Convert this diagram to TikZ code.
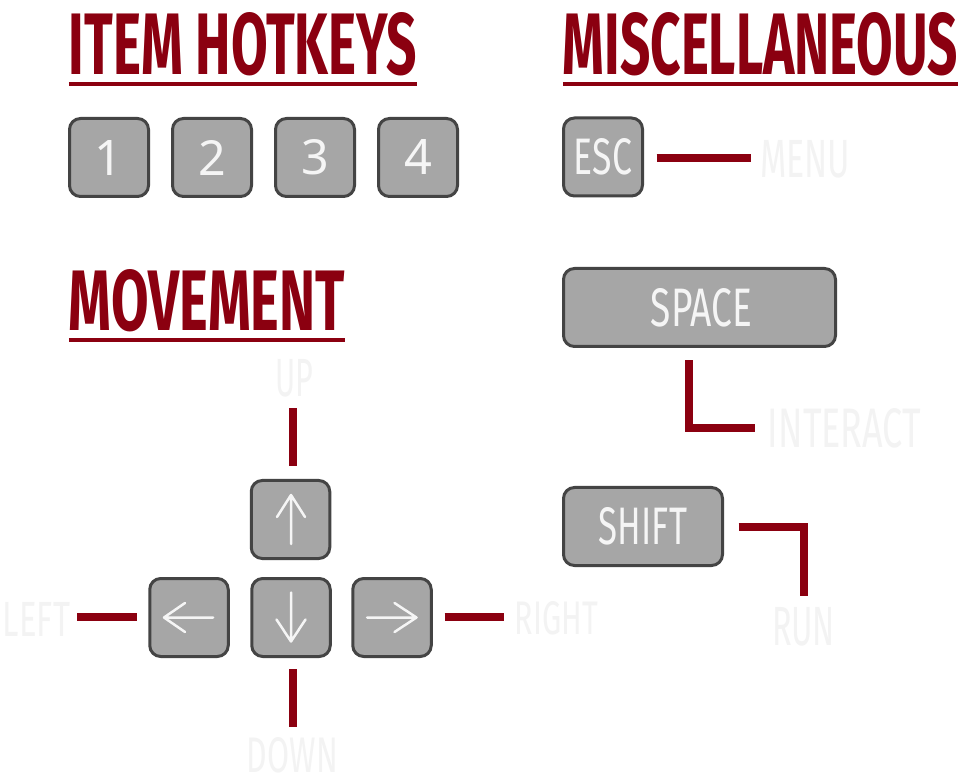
\documentclass[tikz,border=0pt]{standalone}
\usepackage{fontspec}
\usepackage{graphicx}
\usetikzlibrary{calc}
\newfontfamily\titlefont{Fira Sans}
\newfontfamily\keyfont{Fira Sans}
\newfontfamily\digitfont{Noto Sans}
\definecolor{titlered}{HTML}{8B0010}
\definecolor{keyfill}{HTML}{A6A6A6}
\definecolor{keyedge}{HTML}{444444}
\definecolor{keytext}{HTML}{F5F5F5}
\definecolor{labeltext}{HTML}{F3F3F3}
\newcommand\fittext[3]{\resizebox{#1pt}{#2pt}{#3}}
\newcommand\keydigit[1]{\resizebox{!}{35pt}{\digitfont #1}}
\tikzset{
  keybox/.style={draw=keyedge, line width=3pt, fill=keyfill, rounded corners=11pt,
    inner sep=0pt, minimum width=78.5pt, minimum height=78pt, text=keytext},
  conn/.style={draw=titlered, line width=8pt},
  uline/.style={draw=titlered, line width=4pt},
  lbl/.style={inner sep=0pt, text=labeltext},
  ttl/.style={inner sep=0pt, text=titlered},
  arr/.style={draw=keytext, line width=2.5pt, line cap=round, line join=round}
}
\begin{document}
\begin{tikzpicture}[x=1pt,y=-1pt]
\path[use as bounding box, fill=white] (0,0) rectangle (959,783);

% titles
\node[ttl] (tItem) at (243,44) {\fittext{348}{62}{\titlefont\bfseries ITEM HOTKEYS}};
\node[ttl] (tMisc) at (760.5,44) {\fittext{395}{62}{\titlefont\bfseries MISCELLANEOUS}};
\node[ttl] (tMove) at (207,300.5) {\fittext{276}{61}{\titlefont\bfseries MOVEMENT}};
\draw[uline] ($(tItem.south west)+(0,8)$) -- ($(tItem.south east)+(0,8)$);
\draw[uline] ($(tMisc.south west)+(0,8)$) -- ($(tMisc.south east)+(0,8)$);
\draw[uline] ($(tMove.south west)+(0,8)$) -- ($(tMove.south east)+(0,8)$);

% hotkeys
\node[keybox, minimum width=79pt] (k1) at (109,157.5) {\keydigit{1}};
\node[keybox, minimum width=79pt] (k2) at (212,157.5) {\keydigit{2}};
\node[keybox, minimum width=79pt] (k3) at (315,157.5) {\keydigit{3}};
\node[keybox, minimum width=79pt] (k4) at (418,157.5) {\keydigit{4}};

% misc keys
\node[keybox, minimum width=79pt] (esc) at (603,157) {\fittext{58}{36}{\keyfont ESC}};
\node[keybox, minimum width=272pt] (space) at (699.5,307.5) {\hspace*{4pt}\fittext{101}{38}{\keyfont SPACE}};
\node[keybox, minimum width=159pt] (shift) at (643,526.5) {\fittext{88}{37}{\keyfont SHIFT}};

% movement keys
\node[keybox] (up) at (290.5,519.5) {};
\node[keybox] (left) at (189,617.5) {};
\node[keybox] (down) at (291,617.5) {};
\node[keybox] (right) at (392,617.5) {};

% arrows on keys
\draw[arr] ($(up.center)+(0.5,24.5)$) -- ++(0,-49) ++(-14,22) -- ++(14,-22) -- ++(14,22);
\draw[arr] ($(down.center)+(0,-25)$) -- ++(0,49) ++(-14.5,-22) -- ++(14.5,22) -- ++(14.5,-22);
\draw[arr] ($(left.center)+(24,0)$) -- ++(-49,0) ++(21,-14.5) -- ++(-21,14.5) -- ++(21,14.5);
\draw[arr] ($(right.center)+(-25,0)$) -- ++(49.5,0) ++(-22,-14.5) -- ++(22,14.5) -- ++(-22,14.5);

% labels
\node[lbl] (menu) at (805,159.5) {\fittext{90}{37}{\keyfont MENU}};
\node[lbl] (interact) at (844.5,428.5) {\fittext{153}{39}{\keyfont INTERACT}};
\node[lbl] (run) at (803.5,627) {\fittext{63}{38}{\keyfont RUN}};
\node[lbl] (uplbl) at (294,378.5) {\fittext{38}{37}{\keyfont UP}};
\node[lbl] (leftlbl) at (36.5,619) {\fittext{67}{34}{\keyfont LEFT}};
\node[lbl] (rightlbl) at (556.5,618.5) {\fittext{83}{33}{\keyfont RIGHT}};
\node[lbl] (downlbl) at (292.5,755.5) {\fittext{91}{35}{\keyfont DOWN}};

% connectors
\draw[conn] ($(esc.east)+(12.5,1)$) -- ($(esc.east -| menu.west)+(-9,1)$);
\draw[conn] ($(space.south)+(-10.5,12.5)$) |- ($(interact.west)+(-13,0)$);
\draw[conn] ($(shift.east)+(14.5,0.5)$) -| ($(run.north)+(0,-11)$);
\coordinate (upc) at ($(up.north)+(2,-13)$);
\draw[conn, shorten >=10pt] (upc) -- (upc |- uplbl.south);
\coordinate (downc) at ($(down.south)+(1.5,11.25)$);
\draw[conn, shorten >=10pt] (downc) -- (downc |- downlbl.north);
\draw[conn] ($(left.west)+(-11.75,-0.5)$) -- ($(left.west -| leftlbl.east)+(7,-0.5)$);
\draw[conn] ($(right.east)+(11.75,-0.5)$) -- ($(right.east -| rightlbl.west)+(-11,-0.5)$);
\end{tikzpicture}
\end{document}
